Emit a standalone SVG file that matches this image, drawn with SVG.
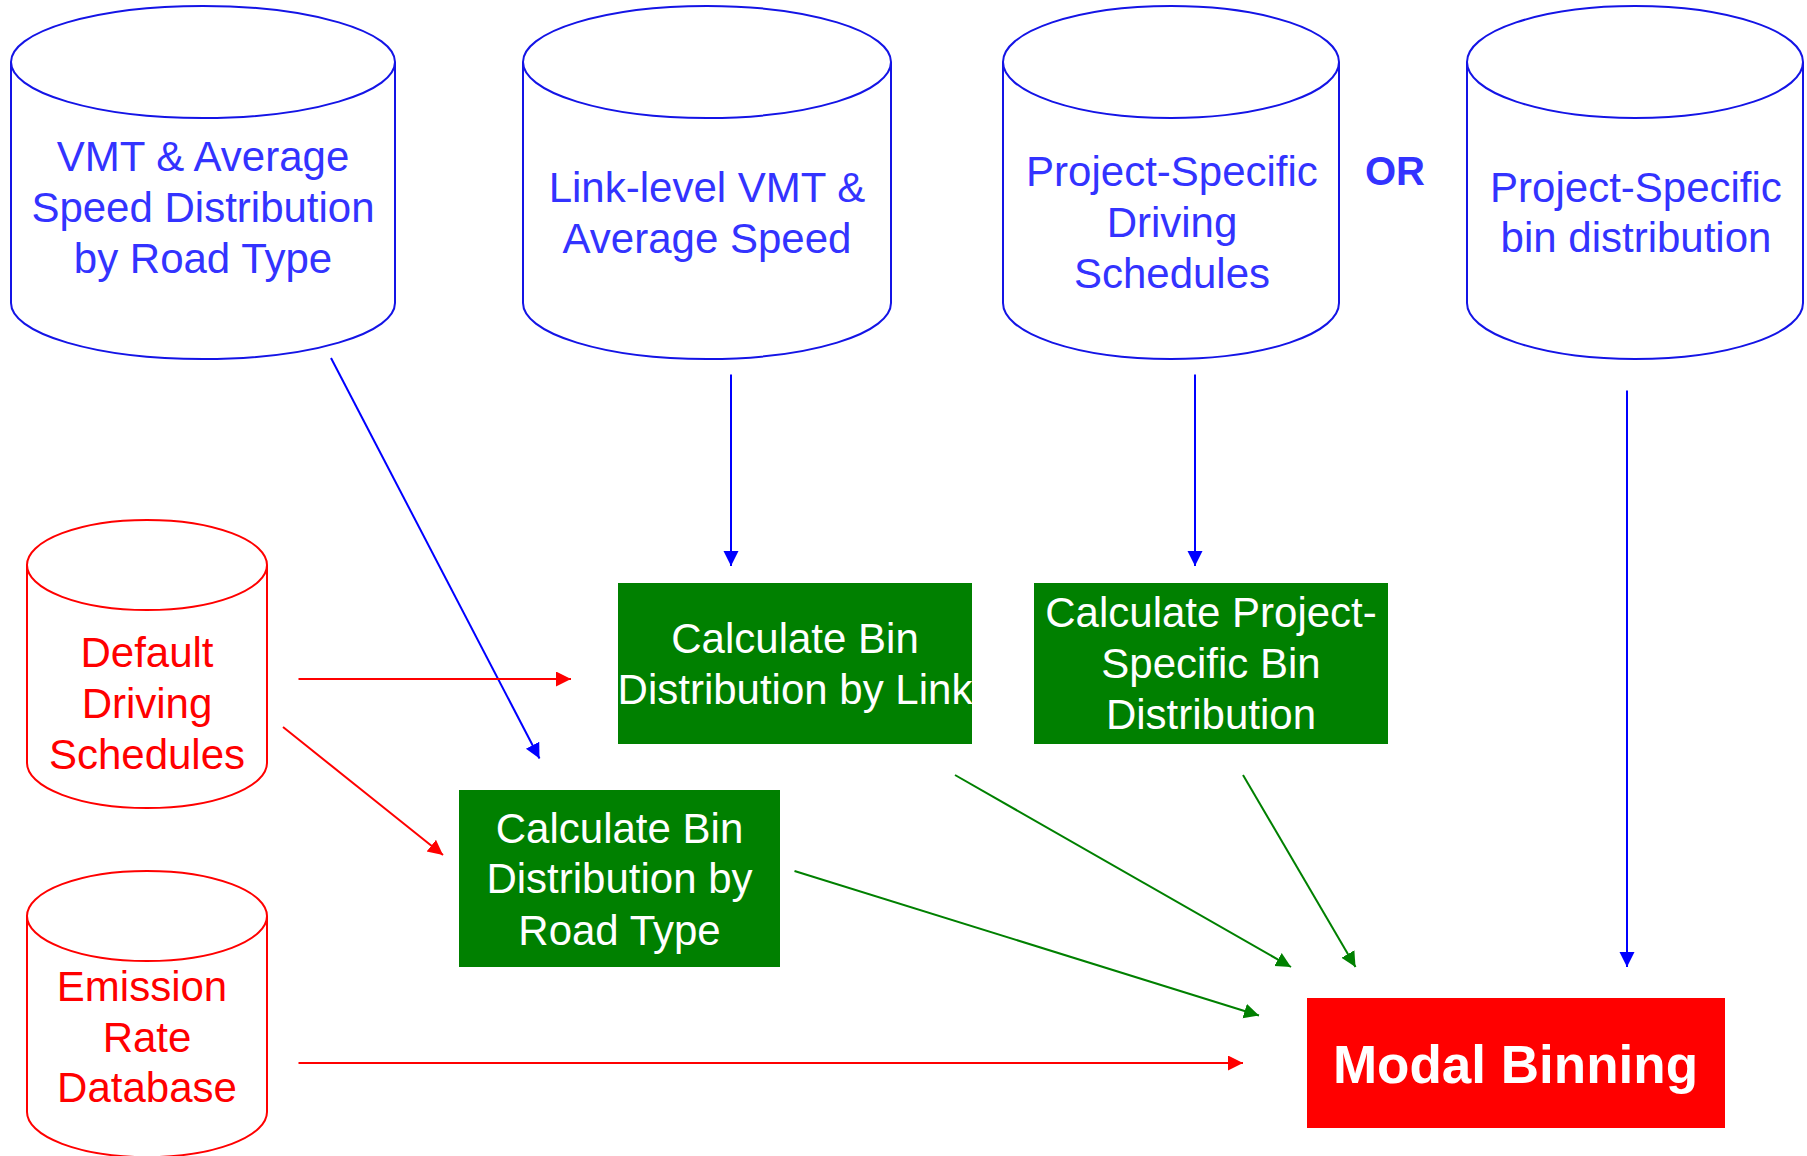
<svg xmlns="http://www.w3.org/2000/svg" width="1807" height="1156" viewBox="0 0 1807 1156">
<style>
text{font-family:"Liberation Sans",Arial,sans-serif;text-anchor:middle}
.cb{fill:#fff;stroke:#1414E6;stroke-width:2}
.cr{fill:#fff;stroke:#FF0000;stroke-width:2}
.tb{fill:#3333FF;font-size:42px}
.tr{fill:#FF0000;font-size:42px}
.tw{fill:#fff;font-size:42px}
.gbox{fill:#008000}
.lb{stroke:#0000FF;stroke-width:2;fill:none}
.lr{stroke:#FF0000;stroke-width:2;fill:none}
.lg{stroke:#008000;stroke-width:2;fill:none}
</style>
<defs>
<marker id="ab" markerUnits="userSpaceOnUse" markerWidth="16" markerHeight="16" refX="15" refY="7.5" orient="auto"><path d="M0,0 L15,7.5 L0,15 z" fill="#0000FF"/></marker>
<marker id="ar" markerUnits="userSpaceOnUse" markerWidth="16" markerHeight="16" refX="15" refY="7.5" orient="auto"><path d="M0,0 L15,7.5 L0,15 z" fill="#FF0000"/></marker>
<marker id="ag" markerUnits="userSpaceOnUse" markerWidth="16" markerHeight="16" refX="15" refY="7.5" orient="auto"><path d="M0,0 L15,7.5 L0,15 z" fill="#008000"/></marker>
</defs>
<rect width="1807" height="1156" fill="#fff"/>

<g id="vmt-road">
<path class="cb" d="M11,62 L11,303 A192,56 0 0 0 395,303 L395,62"/>
<ellipse class="cb" cx="203" cy="62" rx="192" ry="56"/>
<text class="tb" x="203" y="171">VMT &amp; Average</text>
<text class="tb" x="203" y="222">Speed Distribution</text>
<text class="tb" x="203" y="273">by Road Type</text>
</g>

<g id="link-vmt">
<path class="cb" d="M523,62 L523,303 A184,56 0 0 0 891,303 L891,62"/>
<ellipse class="cb" cx="707" cy="62" rx="184" ry="56"/>
<text class="tb" x="707" y="202">Link-level VMT &amp;</text>
<text class="tb" x="707" y="253">Average Speed</text>
</g>

<g id="proj-sched">
<path class="cb" d="M1003,62 L1003,303 A168,56 0 0 0 1339,303 L1339,62"/>
<ellipse class="cb" cx="1171" cy="62" rx="168" ry="56"/>
<text class="tb" x="1172" y="186">Project-Specific</text>
<text class="tb" x="1172" y="237">Driving</text>
<text class="tb" x="1172" y="288">Schedules</text>
</g>

<g id="or-label">
<text x="1395" y="185" style="fill:#3333FF;font-size:40px;font-weight:bold">OR</text>
</g>

<g id="proj-bin">
<path class="cb" d="M1467,62 L1467,303 A168,56 0 0 0 1803,303 L1803,62"/>
<ellipse class="cb" cx="1635" cy="62" rx="168" ry="56"/>
<text class="tb" x="1636" y="202">Project-Specific</text>
<text class="tb" x="1636" y="252">bin distribution</text>
</g>

<g id="default-sched">
<path class="cr" d="M27,565 L27,763 A120,45 0 0 0 267,763 L267,565"/>
<ellipse class="cr" cx="147" cy="565" rx="120" ry="45"/>
<text class="tr" x="147" y="667">Default</text>
<text class="tr" x="147" y="718">Driving</text>
<text class="tr" x="147" y="769">Schedules</text>
</g>

<g id="emission-db">
<path class="cr" d="M27,916 L27,1112 A120,45 0 0 0 267,1112 L267,916"/>
<ellipse class="cr" cx="147" cy="916" rx="120" ry="45"/>
<text class="tr" x="142" y="1001">Emission</text>
<text class="tr" x="147" y="1052">Rate</text>
<text class="tr" x="147" y="1102">Database</text>
</g>

<g id="calc-link">
<rect class="gbox" x="618" y="583" width="354" height="161"/>
<text class="tw" x="795" y="653">Calculate Bin</text>
<text class="tw" x="795" y="704">Distribution by Link</text>
</g>

<g id="calc-proj">
<rect class="gbox" x="1034" y="583" width="354" height="161"/>
<text class="tw" x="1211" y="627">Calculate Project-</text>
<text class="tw" x="1211" y="678">Specific Bin</text>
<text class="tw" x="1211" y="729">Distribution</text>
</g>

<g id="calc-road">
<rect class="gbox" x="459" y="790" width="321" height="177"/>
<text class="tw" x="619.5" y="843">Calculate Bin</text>
<text class="tw" x="619.5" y="893">Distribution by</text>
<text class="tw" x="619.5" y="945">Road Type</text>
</g>

<g id="modal-binning">
<rect x="1307" y="998" width="418" height="130" fill="#FF0000"/>
<text x="1515.5" y="1083" style="fill:#fff;font-size:53px;font-weight:bold">Modal Binning</text>
</g>

<g id="connectors">
<line class="lb" x1="331" y1="358" x2="539.5" y2="758.5" marker-end="url(#ab)"/>
<line class="lb" x1="731" y1="374.5" x2="731" y2="566" marker-end="url(#ab)"/>
<line class="lb" x1="1195" y1="374.5" x2="1195" y2="566" marker-end="url(#ab)"/>
<line class="lb" x1="1627" y1="390.5" x2="1627" y2="967" marker-end="url(#ab)"/>
<line class="lr" x1="298.5" y1="679" x2="571" y2="679" marker-end="url(#ar)"/>
<line class="lr" x1="283" y1="727" x2="443" y2="855" marker-end="url(#ar)"/>
<line class="lr" x1="298.5" y1="1063" x2="1243" y2="1063" marker-end="url(#ar)"/>
<line class="lg" x1="955" y1="775" x2="1291" y2="967" marker-end="url(#ag)"/>
<line class="lg" x1="1243" y1="775" x2="1355.5" y2="967" marker-end="url(#ag)"/>
<line class="lg" x1="794.5" y1="871" x2="1259" y2="1015.5" marker-end="url(#ag)"/>
</g>
</svg>
